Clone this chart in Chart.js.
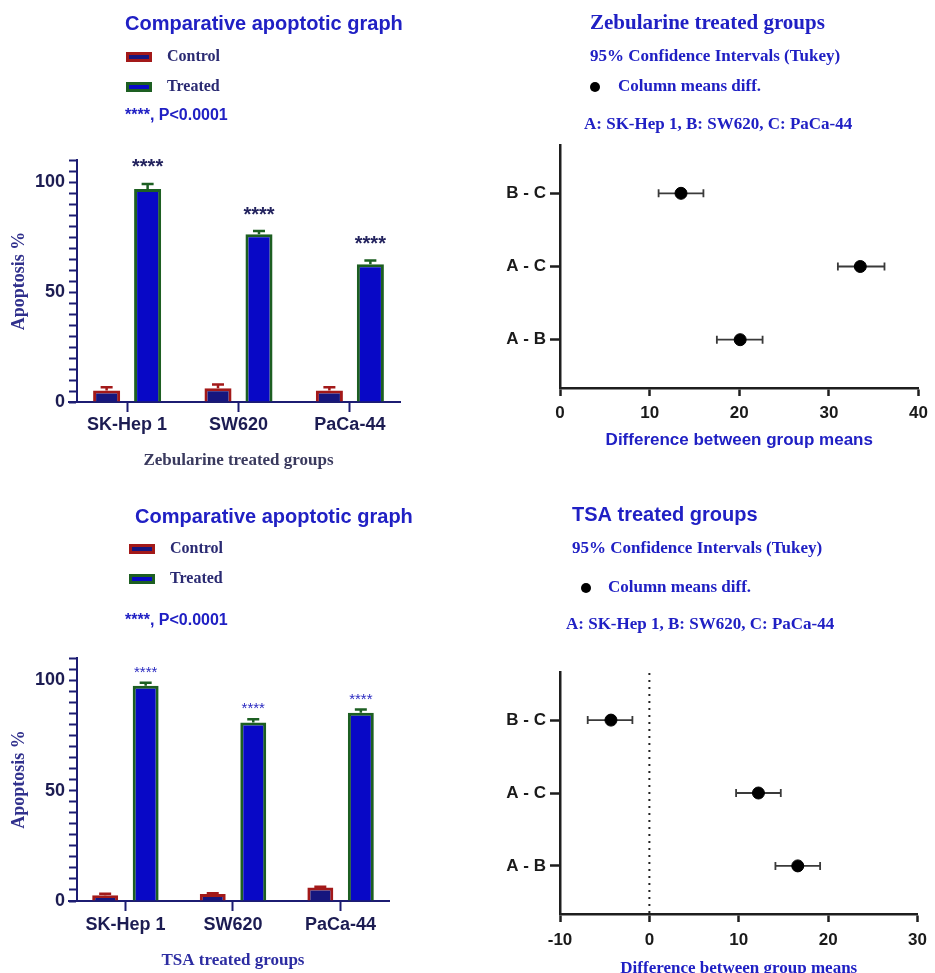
<!DOCTYPE html>
<html>
<head>
<meta charset="utf-8">
<script src="https://cdn.jsdelivr.net/npm/chart.js@4.4.1/dist/chart.umd.min.js"></script>
<style>
html,body{margin:0;padding:0;background:#fff;overflow:hidden;width:935px;height:973px}
canvas{position:absolute}
</style>
</head>
<body>
<canvas id="zebBars" width="465" height="485" style="left:0;top:0"></canvas>
<canvas id="zebTukey" width="470" height="485" style="left:465px;top:0"></canvas>
<canvas id="tsaBars" width="465" height="488" style="left:0;top:485px"></canvas>
<canvas id="tsaTukey" width="470" height="510" style="left:465px;top:485px"></canvas>
<script>
// values
var cellLines = ['SK-Hep 1', 'SW620', 'PaCa-44']
var apoptosisTicks = [0, 50, 100]

var zebControl = [5.2, 6.3, 5.2]
var zebControlErr = [1.5, 1.7, 1.5]
var zebTreated = [96.8, 76.2, 62.6]
var zebTreatedErr = [2.3, 1.5, 1.7]

var tsaControl = [2.6, 3.2, 6.1]
var tsaControlErr = [0.7, 0.3, 0.3]
var tsaTreated = [97.4, 80.8, 85.2]
var tsaTreatedErr = [1.4, 1.5, 1.5]

// tukey comparisons, listed top to bottom
var comparisons = ['B - C', 'A - C', 'A - B']
var zebDiff = [13.5, 33.5, 20.1]
var zebLow = [11.0, 31.0, 17.5]
var zebHigh = [16.0, 36.2, 22.6]
var tsaDiff = [-4.3, 12.2, 16.6]
var tsaLow = [-6.9, 9.7, 14.1]
var tsaHigh = [-1.9, 14.7, 19.1]

var SANS = "'Liberation Sans', Arial, sans-serif"
var SERIF = "'Liberation Serif', 'Times New Roman', serif"
var NAVY_AXIS = '#1c1c72'
var RED = '#a31919'
var NAVY_FILL = '#16167e'
var GREEN = '#1d5f22'
var BLUE_FILL = '#0808c6'
var TEXT_BLUE = '#2020c4'

// titles and legend lines above each plot
var headerPlugin = {
    id: 'header',
    afterDraw: function(chart, args, opts){
        var ctx = chart.ctx
        ctx.save()
        ctx.textBaseline = 'middle'
        ctx.textAlign = 'left'
        var lines = opts.lines || []
        lines.forEach(function(l){
            ctx.font = l.font
            ctx.fillStyle = l.color
            ctx.fillText(l.text, l.x, l.y)
        })
        var lg = opts.legend
        if(lg){
            chart.data.datasets.forEach(function(ds, i){
                var y = lg.y + i * lg.gap
                if(lg.dot){
                    ctx.fillStyle = ds.backgroundColor
                    ctx.beginPath()
                    ctx.arc(lg.x, y, lg.dot, 0, Math.PI * 2)
                    ctx.fill()
                }else{
                    ctx.fillStyle = ds.borderColor
                    ctx.fillRect(lg.x, y - 5, 26, 10)
                    ctx.fillStyle = ds.backgroundColor
                    ctx.fillRect(lg.x + 3, y - 2, 20, 4)
                }
                ctx.font = lg.font
                ctx.fillStyle = lg.color
                ctx.fillText(ds.label, lg.textX, y)
            })
        }
        ctx.restore()
    }
}

// SEM bars (upper only) + significance stars
var barErrorPlugin = {
    id: 'barErrors',
    afterDatasetsDraw: function(chart, args, opts){
        var ctx = chart.ctx, yScale = chart.scales.y, a = chart.chartArea
        ctx.save()
        chart.data.datasets.forEach(function(ds, i){
            var meta = chart.getDatasetMeta(i)
            meta.data.forEach(function(bar, j){
                var v = meta.controller.getParsed(j).y
                var top = yScale.getPixelForValue(v + ds.errors[j])
                ctx.strokeStyle = ds.borderColor
                ctx.lineWidth = 2.5
                ctx.beginPath()
                ctx.moveTo(bar.x, bar.y)
                ctx.lineTo(bar.x, top)
                ctx.moveTo(bar.x - 6, top)
                ctx.lineTo(bar.x + 6, top)
                ctx.stroke()
                if(ds.stars){
                    ctx.font = opts.starFont
                    ctx.fillStyle = opts.starColor
                    ctx.textAlign = 'center'
                    ctx.textBaseline = 'middle'
                    ctx.fillText(ds.stars, bar.x, top - opts.starGap)
                }
            })
        })
        // x axis sticks out a little left of the y axis
        ctx.strokeStyle = NAVY_AXIS
        ctx.lineWidth = 2
        ctx.beginPath()
        ctx.moveTo(a.left - 9, a.bottom)
        ctx.lineTo(a.left, a.bottom)
        ctx.stroke()
        ctx.restore()
    }
}

// tukey confidence intervals + dotted zero line
var ciPlugin = {
    id: 'ciBars',
    beforeDatasetsDraw: function(chart, args, opts){
        var ctx = chart.ctx, xs = chart.scales.x, ys = chart.scales.y, a = chart.chartArea
        ctx.save()
        if(opts.zeroLine){
            var zx = xs.getPixelForValue(0)
            ctx.strokeStyle = '#222'
            ctx.lineWidth = 2
            ctx.setLineDash([2, 5])
            ctx.beginPath()
            ctx.moveTo(zx, a.top + 1)
            ctx.lineTo(zx, a.bottom)
            ctx.stroke()
            ctx.setLineDash([])
        }
        chart.data.datasets.forEach(function(ds){
            ds.data.forEach(function(p, j){
                var y = ys.getPixelForValue(p.y)
                var x1 = xs.getPixelForValue(ds.low[j])
                var x2 = xs.getPixelForValue(ds.high[j])
                ctx.strokeStyle = '#3a3a3a'
                ctx.lineWidth = 1.8
                ctx.beginPath()
                ctx.moveTo(x1, y); ctx.lineTo(x2, y)
                ctx.moveTo(x1, y - 4); ctx.lineTo(x1, y + 4)
                ctx.moveTo(x2, y - 4); ctx.lineTo(x2, y + 4)
                ctx.stroke()
            })
        })
        ctx.restore()
    }
}

function toPoints(arr){
    return arr.map(function(v, i){ return {x: i, y: v} })
}

function makeBars(id, c){
    return new Chart(document.getElementById(id), {
        type: 'bar',
        data: {
            datasets: [
                {label: 'Control', data: toPoints(c.control), errors: c.controlErr,
                 backgroundColor: NAVY_FILL, borderColor: RED, borderWidth: 3},
                {label: 'Treated', data: toPoints(c.treated), errors: c.treatedErr, stars: '****',
                 backgroundColor: BLUE_FILL, borderColor: GREEN, borderWidth: 3}
            ]
        },
        plugins: [headerPlugin, barErrorPlugin],
        options: {
            responsive: false,
            animation: false,
            layout: {padding: {left: 0, top: c.top, right: c.right, bottom: 0}},
            datasets: {bar: {categoryPercentage: c.catPct, barPercentage: c.barPct}},
            plugins: {
                legend: {display: false},
                tooltip: {enabled: false},
                header: c.header,
                barErrors: {starFont: c.starFont, starColor: c.starColor, starGap: c.starGap}
            },
            scales: {
                x: {
                    type: 'linear', min: -0.45, max: cellLines.length - 0.55, offset: false,
                    afterBuildTicks: function(s){
                        s.ticks = cellLines.map(function(n, i){ return {value: i} })
                    },
                    grid: {offset: false, drawOnChartArea: false, tickLength: 10, tickWidth: 2, tickColor: NAVY_AXIS},
                    border: {color: NAVY_AXIS, width: 2},
                    ticks: {color: '#1c1c52', maxRotation: 0, autoSkip: false, padding: c.xPad,
                            font: {family: SANS, size: 18, weight: 'bold'},
                            callback: function(v){ return cellLines[v] }},
                    title: {display: true, text: c.xTitle, color: c.xTitleColor,
                            font: {family: SERIF, size: 17, weight: 'bold'}, padding: {top: 0, bottom: c.xTitlePad}},
                    afterFit: function(s){ s.height = c.xH }
                },
                y: {
                    min: 0, max: 110,
                    grid: {drawOnChartArea: false, tickLength: 8, tickWidth: 2, tickColor: NAVY_AXIS},
                    border: {color: NAVY_AXIS, width: 2},
                    ticks: {
                        stepSize: 5, autoSkip: false, padding: 4, color: '#1c1c52',
                        font: {family: SANS, size: 18, weight: 'bold'},
                        callback: function(v){ return apoptosisTicks.indexOf(v) >= 0 ? String(v) : '' }
                    },
                    title: {display: true, text: 'Apoptosis %', color: '#30308c',
                            font: {family: SERIF, size: 18, weight: 'bold'}, padding: {top: 9, bottom: 0}},
                    afterFit: function(s){ s.width = 77 }
                }
            }
        }
    })
}

function makeTukey(id, c){
    var pts = c.diff.map(function(v, i){ return {x: v, y: comparisons.length - i} })
    return new Chart(document.getElementById(id), {
        type: 'scatter',
        data: {
            datasets: [{label: 'Column means diff.', data: pts, low: c.low, high: c.high,
                        backgroundColor: '#000', borderColor: '#000', pointRadius: 6}]
        },
        plugins: [headerPlugin, ciPlugin],
        options: {
            responsive: false,
            animation: false,
            layout: {padding: {left: 0, top: c.top, right: 10, bottom: 0}},
            plugins: {
                legend: {display: false},
                tooltip: {enabled: false},
                header: c.header,
                ciBars: {zeroLine: c.zeroLine}
            },
            scales: {
                x: {
                    type: 'linear', min: c.xMin, max: c.xMax,
                    grid: {drawOnChartArea: false, tickLength: 8, tickWidth: 2.5, tickColor: '#1e1e1e'},
                    border: {color: '#1e1e1e', width: 2.5},
                    ticks: {stepSize: 10, padding: c.xPad, color: '#1a1a1a', maxRotation: 0,
                            font: {family: SANS, size: 17, weight: 'bold'}},
                    title: {display: true, text: 'Difference between group means', color: c.xTitleColor,
                            font: c.xTitleFont, padding: {top: 0, bottom: c.xTitlePad}},
                    afterFit: function(s){ s.height = c.xH }
                },
                y: {
                    type: 'linear', min: 0.34, max: 3.66,
                    afterBuildTicks: function(s){
                        s.ticks = comparisons.map(function(cmp, i){ return {value: comparisons.length - i} })
                    },
                    grid: {drawOnChartArea: false, tickLength: 10, tickWidth: 2.5, tickColor: '#1e1e1e'},
                    border: {color: '#1e1e1e', width: 2.5},
                    ticks: {padding: 4, color: '#1a1a1a', font: {family: SANS, size: 17, weight: 'bold'},
                            callback: function(v){ return comparisons[comparisons.length - v] }},
                    afterFit: function(s){ s.width = 95 }
                }
            }
        }
    })
}

var serifHead = 'bold 17px ' + SERIF

makeBars('zebBars', {
    control: zebControl, controlErr: zebControlErr, treated: zebTreated, treatedErr: zebTreatedErr,
    top: 160, right: 65, xH: 83, xPad: 2, xTitlePad: 14,
    catPct: 0.736, barPct: 0.66,
    xTitle: 'Zebularine treated groups', xTitleColor: '#3a3a5e',
    starFont: 'bold 20px ' + SANS, starColor: '#23235e', starGap: 16,
    header: {
        lines: [
            {text: 'Comparative apoptotic graph', x: 125, y: 24, font: 'bold 20px ' + SANS, color: TEXT_BLUE},
            {text: '****, P<0.0001', x: 125, y: 116, font: 'bold 16px ' + SANS, color: TEXT_BLUE}
        ],
        legend: {x: 126, y: 57, gap: 30, textX: 167, font: 'bold 16px ' + SERIF, color: '#2a2a72'}
    }
})

makeTukey('zebTukey', {
    diff: zebDiff, low: zebLow, high: zebHigh,
    top: 145, xH: 97, xPad: 7, xMin: 0, xMax: 40, zeroLine: false,
    xTitleFont: {family: SANS, size: 17, weight: 'bold'}, xTitleColor: TEXT_BLUE, xTitlePad: 34,
    header: {
        lines: [
            {text: 'Zebularine treated groups', x: 125, y: 24, font: 'bold 21px ' + SERIF, color: TEXT_BLUE},
            {text: '95% Confidence Intervals (Tukey)', x: 125, y: 57, font: serifHead, color: TEXT_BLUE},
            {text: 'A: SK-Hep 1, B: SW620, C: PaCa-44', x: 119, y: 125, font: serifHead, color: TEXT_BLUE}
        ],
        legend: {x: 130, y: 87, gap: 0, dot: 5, textX: 153, font: serifHead, color: TEXT_BLUE}
    }
})

makeBars('tsaBars', {
    control: tsaControl, controlErr: tsaControlErr, treated: tsaTreated, treatedErr: tsaTreatedErr,
    top: 173, right: 76, xH: 72, xPad: 3, xTitlePad: 2,
    catPct: 0.753, barPct: 0.64,
    xTitle: 'TSA treated groups', xTitleColor: '#2d2da2',
    starFont: '15px ' + SANS, starColor: '#2a2ac0', starGap: 10,
    header: {
        lines: [
            {text: 'Comparative apoptotic graph', x: 135, y: 32, font: 'bold 20px ' + SANS, color: TEXT_BLUE},
            {text: '****, P<0.0001', x: 125, y: 136, font: 'bold 16px ' + SANS, color: TEXT_BLUE}
        ],
        legend: {x: 129, y: 64, gap: 30, textX: 170, font: 'bold 16px ' + SERIF, color: '#2a2a72'}
    }
})

makeTukey('tsaTukey', {
    diff: tsaDiff, low: tsaLow, high: tsaHigh,
    top: 187, xH: 81, xPad: 8, xMin: -10, xMax: 30, zeroLine: true,
    xTitleFont: {family: SERIF, size: 17, weight: 'bold'}, xTitleColor: TEXT_BLUE, xTitlePad: 16,
    header: {
        lines: [
            {text: 'TSA treated groups', x: 107, y: 30, font: 'bold 20px ' + SANS, color: TEXT_BLUE},
            {text: '95% Confidence Intervals (Tukey)', x: 107, y: 64, font: serifHead, color: TEXT_BLUE},
            {text: 'A: SK-Hep 1, B: SW620, C: PaCa-44', x: 101, y: 140, font: serifHead, color: TEXT_BLUE}
        ],
        legend: {x: 121, y: 103, gap: 0, dot: 5, textX: 143, font: serifHead, color: TEXT_BLUE}
    }
})
</script>
</body>
</html>
